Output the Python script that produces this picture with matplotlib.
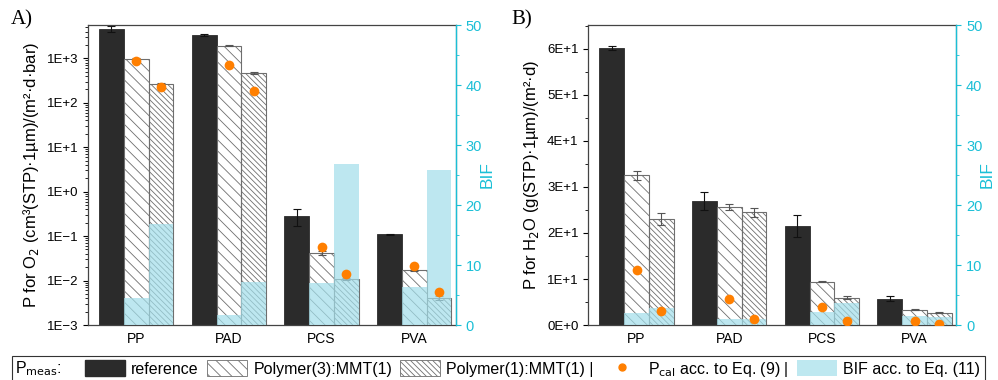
import numpy as np
import matplotlib
matplotlib.use("Agg")
import matplotlib.pyplot as plt
from matplotlib.ticker import FuncFormatter, MultipleLocator
from matplotlib.patches import Patch, Rectangle
from matplotlib.lines import Line2D

plt.rcParams['font.family'] = ['Liberation Sans', 'DejaVu Sans']
plt.rcParams['hatch.linewidth'] = 0.6
plt.rcParams['hatch.color'] = '#6e6e6e'

groups = ["PP", "PAD", "PCS", "PVA"]

# A) oxygen permeability
o2_ref = [4600, 3350, 0.29, 0.11]
o2_ref_err = [600, 120, 0.12, 0.004]
o2_31 = [980, 1900, 0.042, 0.0169]
o2_31_err = [40, 60, 0.005, 0.0008]
o2_11 = [265, 460, 0.0107, 0.0041]
o2_11_err = [10, 25, 0.0006, 0.0005]
o2_cal_31 = [885, 700, 0.058, 0.021]
o2_cal_11 = [230, 186, 0.0142, 0.0055]
o2_bif_31 = [4.45, 1.67, 6.95, 6.3]
o2_bif_11 = [16.9, 7.2, 26.9, 25.9]

# B) water vapour permeability
h2o_ref = [60.2, 27.0, 21.5, 5.7]
h2o_ref_err = [0.4, 1.9, 2.4, 0.5]
h2o_31 = [32.5, 25.6, 9.4, 3.3]
h2o_31_err = [1.0, 0.7, 0.1, 0.1]
h2o_11 = [23.0, 24.5, 5.9, 2.7]
h2o_11_err = [1.3, 1.0, 0.3, 0.1]
h2o_cal_31 = [12.0, 5.7, 4.0, 0.95]
h2o_cal_11 = [3.0, 1.2, 0.95, 0.2]
h2o_bif_31 = [1.95, 0.95, 2.2, 1.5]
h2o_bif_11 = [2.8, 1.0, 3.6, 1.3]

dark = '#2b2b2b'
orange = '#ff7f00'
blue = '#a2deea'
cyan = '#1bbfd6'
edge = '#6e6e6e'

fig = plt.figure(figsize=(9.98, 3.80), dpi=100)
ax_a = fig.add_axes([0.0882, 0.1447, 0.3687, 0.7895])
ax_b = fig.add_axes([0.5895, 0.1447, 0.3687, 0.7895])

x = np.arange(len(groups))
w = 0.267

panels = [
    (ax_a, o2_ref, o2_ref_err, o2_31, o2_31_err, o2_11, o2_11_err,
     o2_cal_31, o2_cal_11, o2_bif_31, o2_bif_11,
     "P for O$_2$ (cm³(STP)·1µm)/(m²·d·bar)", "A)"),
    (ax_b, h2o_ref, h2o_ref_err, h2o_31, h2o_31_err, h2o_11, h2o_11_err,
     h2o_cal_31, h2o_cal_11, h2o_bif_31, h2o_bif_11,
     "P for H$_2$O (g(STP)·1µm)/(m²·d)", "B)"),
]

for (ax, ref, ref_e, p31, p31_e, p11, p11_e, c31, c11, b31, b11, ylab, tag) in panels:
    ax.bar(x - w, ref, w, color=dark, edgecolor=dark, linewidth=0.6)
    ax.bar(x, p31, w, color='none', edgecolor=edge, hatch='\\\\\\', linewidth=0.8)
    ax.bar(x + w, p11, w, color='none', edgecolor=edge, hatch='\\\\\\\\\\\\', linewidth=0.8)
    ax.errorbar(x - w, ref, yerr=ref_e, fmt='none', ecolor='#111111', elinewidth=0.8, capsize=3, capthick=0.8)
    ax.errorbar(x, p31, yerr=p31_e, fmt='none', ecolor='#555555', elinewidth=0.8, capsize=3, capthick=0.8)
    ax.errorbar(x + w, p11, yerr=p11_e, fmt='none', ecolor='#555555', elinewidth=0.8, capsize=3, capthick=0.8)

    ax.set_xlim(-0.52, 3.45)
    ax.set_xticks(x)
    ax.set_xticklabels(groups, fontsize=10)
    ax.tick_params(axis='x', length=0, pad=5)
    ax.tick_params(axis='y', which='both', direction='out', labelsize=9.5)
    ax.set_ylabel(ylab, fontsize=12)
    for s in ['top', 'left', 'bottom']:
        ax.spines[s].set_color('#444444')
        ax.spines[s].set_linewidth(0.9)

    tw = ax.twinx()
    tw.bar(x, b31, w, color=blue, alpha=0.7, linewidth=0)
    tw.bar(x + w, b11, w, color=blue, alpha=0.7, linewidth=0)
    tw.set_ylim(0, 50)
    tw.yaxis.set_major_locator(MultipleLocator(10))
    tw.yaxis.set_minor_locator(MultipleLocator(5))
    tw.tick_params(axis='y', which='both', colors=cyan, labelsize=10.5, direction='out')
    tw.spines['right'].set_color(cyan)
    tw.spines['right'].set_linewidth(1.0)
    tw.spines['top'].set_visible(False)
    tw.spines['left'].set_visible(False)
    tw.spines['bottom'].set_visible(False)
    tw.set_ylabel("BIF", color=cyan, fontsize=12.5, labelpad=-2)

    # calculated permeabilities drawn on top of the BIF bars
    dots = fig.add_axes(ax.get_position(), sharex=ax, sharey=ax, frameon=False)
    dots.plot(x, c31, 'o', color=orange, markersize=7, markeredgewidth=0)
    dots.plot(x + w, c11, 'o', color=orange, markersize=7, markeredgewidth=0)
    dots.axis('off')

    fig.text(ax.get_position().x0 - 0.077, 0.935, tag, fontsize=15, family='Liberation Serif')

ax_a.set_yscale('log')
ax_a.set_ylim(1e-3, 5.6e3)
ax_a.set_yticks([1e-3, 1e-2, 1e-1, 1e0, 1e1, 1e2, 1e3])
ax_a.yaxis.set_major_formatter(FuncFormatter(
    lambda v, p: ("1E%+d" % int(round(np.log10(v)))).replace('-', '\u2212')))

ax_b.set_ylim(0, 65.2)
ax_b.yaxis.set_major_locator(MultipleLocator(10))
ax_b.yaxis.set_minor_locator(MultipleLocator(5))
ax_b.yaxis.set_major_formatter(FuncFormatter(
    lambda v, p: "0E+0" if v == 0 else "%dE+1" % int(round(v / 10))))

# legend along the bottom
fig.add_artist(Rectangle((0.012, -0.01), 0.975, 0.073, transform=fig.transFigure,
                         fill=False, edgecolor='#333333', linewidth=0.8))
fig.text(0.015, 0.018, "P$_{\\mathrm{meas}}$:", fontsize=11.5)
handles = [
    Patch(facecolor=dark, edgecolor=dark),
    Patch(facecolor='white', edgecolor=edge, hatch='\\\\\\', linewidth=0.6),
    Patch(facecolor='white', edgecolor=edge, hatch='\\\\\\\\\\\\', linewidth=0.6),
    Line2D([], [], marker='o', color=orange, linestyle='none', markersize=5),
    Patch(facecolor='#bee8f0', edgecolor='none'),
]
labels = ["reference", "Polymer(3):MMT(1)", "Polymer(1):MMT(1) |",
          "P$_{\\mathrm{cal}}$ acc. to Eq. (9) |", "BIF acc. to Eq. (11)"]
fig.legend(handles, labels, loc='lower left', bbox_to_anchor=(0.074, -0.026), ncol=5,
           frameon=False, fontsize=11.5, handlelength=2.5, handleheight=1.2,
           handletextpad=0.4, columnspacing=0.5, borderpad=0.2)

fig.savefig("out.png", dpi=100)
